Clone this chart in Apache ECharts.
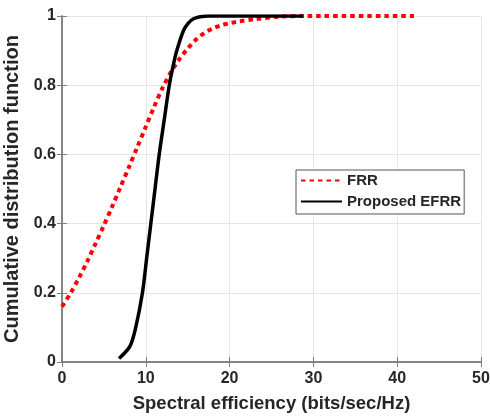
<!DOCTYPE html>
<html>
<head>
<meta charset="utf-8">
<script src="https://cdn.jsdelivr.net/npm/echarts@6/dist/echarts.min.js"></script>
<style>
html,body{margin:0;padding:0;background:#fff;}
#chart{width:490px;height:416px;}
</style>
</head>
<body>
<div id="chart"></div>
<script>
var seriesNames = ['FRR', 'Proposed EFRR'];
var xTicks = [0, 10, 20, 30, 40, 50];
var yTicks = [0, 0.2, 0.4, 0.6, 0.8, 1];

var frrX = [0, 1, 2, 3, 4, 5, 6, 7, 8, 9, 10, 11, 12, 13, 14, 15, 16, 17, 18, 19, 20, 21, 23, 26, 29, 42];
var frrY = [0.16, 0.198, 0.242, 0.29, 0.342, 0.395, 0.45, 0.507, 0.564, 0.622, 0.68, 0.738, 0.792, 0.838, 0.875, 0.906, 0.932, 0.951, 0.964, 0.973, 0.979, 0.984, 0.991, 0.998, 1.0, 1.0];

var efrrX = [6.8, 8.1, 8.8, 9.6, 10.1, 10.6, 11.1, 11.6, 12.2, 12.8, 13.3, 13.7, 14.5, 15.1, 15.7, 16.5, 17.5, 28.8];
var efrrY = [0.01, 0.045, 0.1, 0.2, 0.3, 0.4, 0.5, 0.6, 0.7, 0.8, 0.86, 0.9, 0.958, 0.98, 0.992, 0.998, 1.0, 1.0];

function pairs(xs, ys) { return xs.map(function (x, i) { return [x, ys[i]]; }); }

var FONT = 'Liberation Sans, Arial, sans-serif';
var AX = '#7f7f7f';
var TXT = '#262626';

var chart = echarts.init(document.getElementById('chart'), null, {renderer: 'canvas'});
chart.setOption({
  animation: false,
  backgroundColor: '#fff',
  grid: {left: 62, right: 9, top: 16, bottom: 54, containLabel: false, outerBoundsMode: 'none'},
  legend: {
    data: [
      {name: seriesNames[0], itemStyle: {opacity: 0}},
      {name: seriesNames[1], itemStyle: {opacity: 0}}
    ],
    orient: 'vertical',
    left: 296, top: 170,
    itemWidth: 41, itemHeight: 14, itemGap: 6,
    padding: [3, 3, 5, 4],
    backgroundColor: '#fff',
    borderColor: '#555',
    borderWidth: 1,
    borderRadius: 0,
    textStyle: {fontFamily: FONT, fontWeight: 'bold', fontSize: 15, color: TXT}
  },
  xAxis: [{
    type: 'value', min: xTicks[0], max: xTicks[xTicks.length - 1], interval: 10,
    position: 'bottom',
    name: 'Spectral efficiency (bits/sec/Hz)', nameLocation: 'middle', nameGap: 32,
    nameTextStyle: {fontFamily: FONT, fontWeight: 'bold', fontSize: 18.5, color: TXT},
    axisLine: {lineStyle: {color: AX, width: 1.5}},
    axisTick: {inside: true, length: 5, lineStyle: {color: AX}},
    axisLabel: {fontFamily: FONT, fontWeight: 'bold', fontSize: 16, color: TXT, margin: 9},
    splitLine: {show: true, lineStyle: {color: '#e6e6e6', width: 1}}
  }, {
    type: 'value', min: 0, max: 50, interval: 10, position: 'top',
    axisLine: {show: true, lineStyle: {color: AX, width: 1.5}},
    axisTick: {show: true, inside: true, length: 5, lineStyle: {color: AX}},
    axisLabel: {show: false}, splitLine: {show: false}
  }],
  yAxis: [{
    type: 'value', min: yTicks[0], max: yTicks[yTicks.length - 1], interval: 0.2,
    position: 'left',
    name: 'Cumulative distribution function', nameLocation: 'middle', nameGap: 37,
    nameTextStyle: {fontFamily: FONT, fontWeight: 'bold', fontSize: 20, color: TXT},
    axisLine: {show: true, lineStyle: {color: AX, width: 1.5}},
    axisTick: {show: true, inside: true, length: 5, lineStyle: {color: AX}},
    axisLabel: {fontFamily: FONT, fontWeight: 'bold', fontSize: 16, color: TXT, margin: 6,
      formatter: function (v) { return String(Math.round(v * 10) / 10); }},
    splitLine: {show: true, lineStyle: {color: '#e6e6e6', width: 1}}
  }, {
    type: 'value', min: 0, max: 1, interval: 0.2, position: 'right',
    axisLine: {show: true, lineStyle: {color: AX, width: 1.5}},
    axisTick: {show: true, inside: true, length: 5, lineStyle: {color: AX}},
    axisLabel: {show: false}, splitLine: {show: false}
  }],
  series: [{
    name: seriesNames[0], type: 'line', smooth: 0.3, showSymbol: false, symbol: 'none',
    data: pairs(frrX, frrY), z: 3,
    lineStyle: {color: '#ff0000', width: 4, type: [4.5, 4]},
    itemStyle: {color: '#ff0000'}
  }, {
    name: seriesNames[1], type: 'line', smooth: 0.3, showSymbol: false, symbol: 'none',
    data: pairs(efrrX, efrrY), z: 4,
    lineStyle: {color: '#000000', width: 3.5, type: 'solid'},
    itemStyle: {color: '#000000'}
  }]
});
</script>
</body>
</html>
